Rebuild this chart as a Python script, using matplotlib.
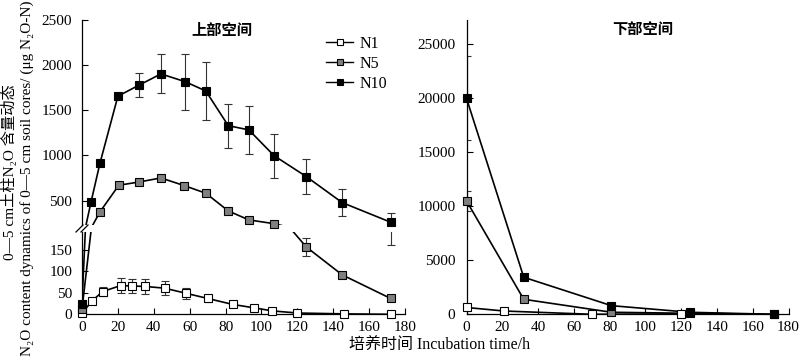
import matplotlib
matplotlib.use('Agg')
import matplotlib.pyplot as plt
import numpy as np
from matplotlib.lines import Line2D

FONTS = ['Liberation Serif', 'DejaVu Serif', 'Noto Sans CJK SC']
plt.rcParams['font.family'] = ['Liberation Serif', 'Noto Sans CJK SC']

# ---------------- data: upper space (上部空间) ----------------
up_t_n1 = [0, 5.5, 11.5, 21.5, 28, 35, 46, 58, 70, 84, 96, 106, 120, 146, 172]
up_n1 = [2, 31, 53, 67, 66, 65, 61, 49, 37, 23, 15, 8, 3, 1, 0]
up_n1_err = [2, 5, 10, 17, 17, 17, 16, 13, 8, 3, 2, 2, 2, 2, 1]

up_t_n5 = [0, 10, 20.5, 32, 44, 57, 69, 81.5, 93, 107, 125, 145, 172]
up_n5 = [12, 375, 670, 707, 751, 666, 582, 386, 286, 245, 157, 92, 37]
up_n5_err = [3, 0, 0, 0, 0, 0, 0, 0, 0, 0, 21, 4, 3]

up_t_n10 = [0, 5, 10, 20, 32, 44, 57.5, 69, 81.5, 93, 107, 125, 145, 172]
up_n10 = [25, 482, 914, 1656, 1781, 1903, 1817, 1714, 1330, 1283, 998, 766, 478, 261]
up_n10_err = [8, 0, 0, 0, 133, 216, 310, 318, 244, 269, 244, 190, 148, 100]

# ---------------- data: lower space (下部空间) ----------------
lo_t_n1 = [0, 21, 70, 120]
lo_n1 = [630, 305, 0, 40]
lo_n1_err = [0, 0, 0, 0]

lo_t = [0, 32, 81, 125, 172]
lo_n5 = [10500, 1390, 190, 90, 0]
lo_n5_err = [900, 0, 0, 0, 0]
lo_n10 = [20000, 3430, 800, 185, 0]
lo_n10_err = [3900, 0, 0, 0, 0]

series_names = ['N1', 'N5', 'N10']
face_colors = ['white', '#7f7f7f', 'black']

x_ticks = list(range(0, 181, 20))
up_hi_ticks = [500, 1000, 1500, 2000, 2500]
up_lo_ticks = [0, 50, 100, 150]
lo_ticks = [0, 5000, 10000, 15000, 20000, 25000]

W, H = 800, 361
fig = plt.figure(figsize=(W / 100, H / 100), dpi=100)


def fr(x0, y_top, x1, y_bot):
    return [x0 / W, 1 - y_bot / H, (x1 - x0) / W, (y_bot - y_top) / H]


ax_top = fig.add_axes(fr(82, 20, 405, 225))
ax_bot = fig.add_axes(fr(82, 232, 405, 314.3))
ax_r = fig.add_axes(fr(466.5, 20, 788.5, 314.3))

ax_top.set_ylim(230, 2500)
ax_bot.set_ylim(0, 192)
ax_r.set_ylim(0, 27250)
for a in (ax_top, ax_bot, ax_r):
    a.set_xlim(0, 180)
    a.spines['top'].set_visible(False)
    a.spines['right'].set_visible(False)
    a.spines['left'].set_linewidth(0.9)
    a.spines['bottom'].set_linewidth(0.9)
    a.patch.set_alpha(0)
    a.tick_params(direction='in', length=4, width=0.8, labelsize=11)
    a.tick_params(axis='y', pad=7)
    a.tick_params(axis='x', pad=5)

ax_top.spines['bottom'].set_visible(False)
ax_top.tick_params(axis='x', bottom=False, labelbottom=False)
ax_top.set_yticks(up_hi_ticks)
ax_bot.set_yticks(up_lo_ticks)
ax_bot.set_xticks(x_ticks)
ax_r.set_xticks(x_ticks)
ax_r.set_yticks(lo_ticks)
ax_r.tick_params(axis='y', pad=8)


def draw(ax, t, y, err, face, lo, hi):
    t = np.asarray(t, float)
    y = np.asarray(y, float)
    err = np.asarray(err, float)
    ax.plot(t, y, '-', color='black', lw=1.2, zorder=2)
    e = err > 0
    if e.any():
        ax.errorbar(t[e], y[e], yerr=err[e], fmt='none', ecolor='#333333',
                    elinewidth=0.8, capsize=3, capthick=0.8, zorder=1)
    m = (y >= lo) & (y <= hi)
    ax.plot(t[m], y[m], 's', ms=5.5, mfc=face, mec='black', mew=0.8,
            clip_on=False, zorder=3)


up_sets = [(up_t_n1, up_n1, up_n1_err), (up_t_n5, up_n5, up_n5_err),
           (up_t_n10, up_n10, up_n10_err)]
for (t, y, err), fc in zip(up_sets, face_colors):
    draw(ax_top, t, y, err, fc, 230, 2500)
    draw(ax_bot, t, y, err, fc, -1, 192)

lo_sets = [(lo_t_n1, lo_n1, lo_n1_err), (lo_t, lo_n5, lo_n5_err),
           (lo_t, lo_n10, lo_n10_err)]
for (t, y, err), fc in zip(lo_sets, face_colors):
    draw(ax_r, t, y, err, fc, -1, 27250)

# break marks
for dx in (0, 5):
    fig.add_artist(Line2D([(76 + dx) / W, (83 + dx) / W],
                          [1 - 232 / H, 1 - 225 / H],
                          color='black', lw=0.9))

# legend
handles = [Line2D([], [], color='black', lw=1.0, marker='s', ms=5,
                  mfc=fc, mec='black', mew=0.8) for fc in face_colors]
fig.legend(handles, series_names, loc='upper left',
           bbox_to_anchor=(326 / W, 1 - 36 / H), frameon=False,
           fontsize=11.5, handlelength=1.7, handletextpad=0.4,
           labelspacing=0.25, borderpad=0, borderaxespad=0)

# titles
fig.text(222 / W, 1 - 30 / H, '上部空间', ha='center', va='center',
         fontsize=11, fontweight='bold', family=['Noto Sans CJK SC'])
fig.text(643 / W, 1 - 29 / H, '下部空间', ha='center', va='center',
         fontsize=11, fontweight='bold', family=['Noto Sans CJK SC'])

# axis labels (unicode subscripts so CJK fallback works)
fig.text(9 / W, 1 - 172 / H, '0—5 cm土柱N₂O 含量动态', rotation=90,
         ha='center', va='center', fontsize=11, family=FONTS)
fig.text(27 / W, 1 - 178 / H,
         'N₂O content dynamics of 0—5 cm soil cores/ (μg N₂O-N)',
         rotation=90, ha='center', va='center', fontsize=11, family=FONTS)
fig.text(440 / W, 1 - 346 / H, '培养时间 Incubation time/h', ha='center',
         va='center', fontsize=11.5)

fig.savefig('out.png', dpi=100)
